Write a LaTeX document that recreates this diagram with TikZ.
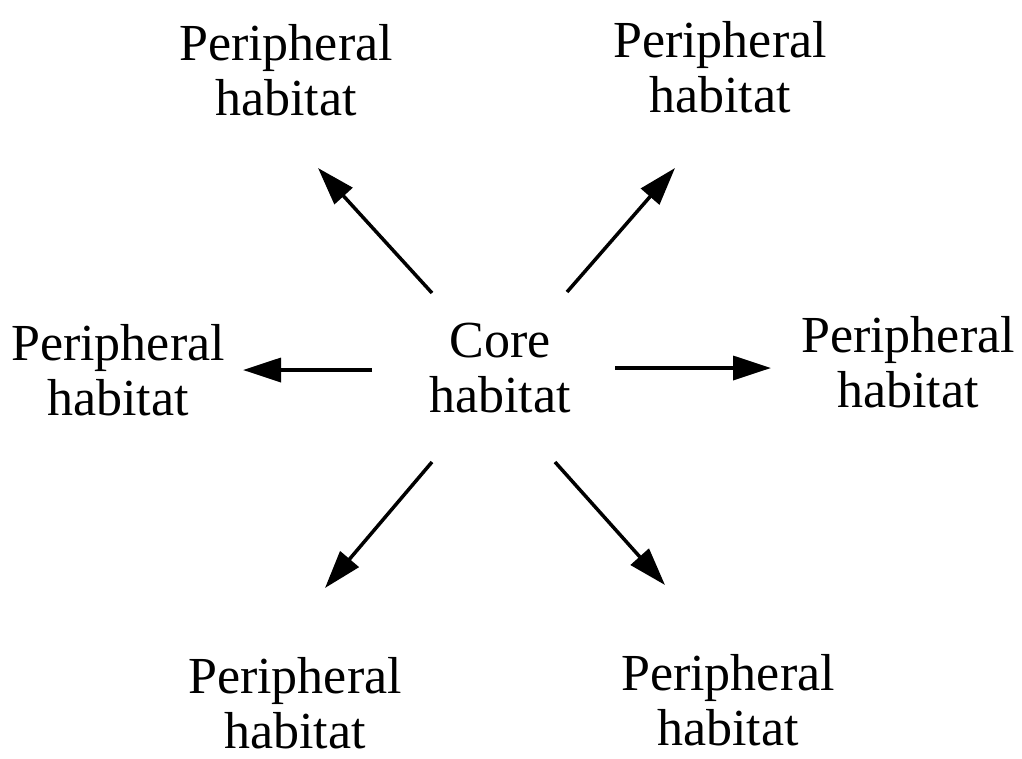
\documentclass[tikz,border=0pt]{standalone}
\usepackage{fontspec}
\setmainfont{Liberation Serif}
\usetikzlibrary{arrows.meta}
\begin{document}
\begin{tikzpicture}[x=1pt,y=-1pt,
  lbl/.style={align=center,font=\fontsize{52}{55}\selectfont,inner sep=0pt},
  arr/.style={line width=3.5pt,-{Triangle[length=38pt,width=24pt]}}]
\useasboundingbox (0,0) rectangle (1022,758);
\node[lbl] (core) at (500,368) {Core\\habitat};
\node[lbl] (tl) at (286,70) {Peripheral\\habitat};
\node[lbl] (tr) at (720,67) {Peripheral\\habitat};
\node[lbl] (l) at (118,370) {Peripheral\\habitat};
\node[lbl] (r) at (908,362) {Peripheral\\habitat};
\node[lbl] (bl) at (295,703) {Peripheral\\habitat};
\node[lbl] (br) at (728,700) {Peripheral\\habitat};
\coordinate (stl) at (432,293); \coordinate (etl) at (318,168);
\coordinate (str) at (567,292); \coordinate (etr) at (675,168);
\coordinate (sl) at (372,370); \coordinate (el) at (243,370);
\coordinate (sr) at (615,368); \coordinate (er) at (771,368);
\coordinate (sbl) at (432,462); \coordinate (ebl) at (325,588);
\coordinate (sbr) at (555,462); \coordinate (ebr) at (665,585);
\draw[arr] (stl) -- (etl);
\draw[arr] (str) -- (etr);
\draw[arr] (sl) -- (el);
\draw[arr] (sr) -- (er);
\draw[arr] (sbl) -- (ebl);
\draw[arr] (sbr) -- (ebr);
\end{tikzpicture}
\end{document}
